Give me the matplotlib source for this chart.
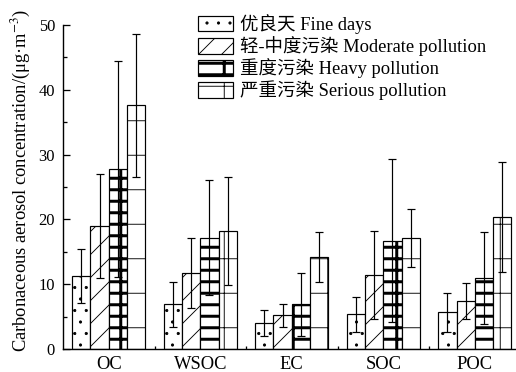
import matplotlib
matplotlib.use("Agg")
import matplotlib.pyplot as plt
import numpy as np

# ---- data ----
categories = ['OC', 'WSOC', 'EC', 'SOC', 'POC']
fine = [11.3, 6.9, 4.0, 5.4, 5.7]
fine_err = [4.2, 3.5, 2.0, 2.7, 3.0]
moderate = [19.0, 11.7, 5.2, 11.4, 7.4]
moderate_err = [8.0, 5.4, 1.8, 6.8, 2.8]
heavy = [27.8, 17.2, 6.9, 16.7, 11.0]
heavy_err = [16.7, 8.9, 4.9, 12.6, 7.1]
serious = [37.6, 18.2, 14.2, 17.1, 20.4]
serious_err = [11.0, 8.4, 3.8, 4.5, 8.5]
labels = ['优良天 Fine days', '轻-中度污染 Moderate pollution',
          '重度污染 Heavy pollution', '严重污染 Serious pollution']
yticks = [0, 10, 20, 30, 40, 50]

DPI = 207.0
def pt(px):
    return px * 72.0 / DPI

plt.rcParams['font.family'] = ['Liberation Serif', 'Noto Sans CJK SC']
plt.rcParams['mathtext.fontset'] = 'stix'
plt.rcParams['hatch.color'] = 'black'


def with_hatch_lw(artist, lw):
    orig = artist.draw

    def draw(renderer, *a, **k):
        with plt.rc_context({'hatch.linewidth': lw}):
            if hasattr(artist, 'set_hatch_linewidth'):
                try:
                    artist.set_hatch_linewidth(lw)
                except Exception:
                    pass
            return orig(renderer, *a, **k)
    artist.draw = draw


fig = plt.figure(figsize=(516.001 / DPI, 372.001 / DPI), dpi=DPI)
W, H = 516.0, 372.0
ax = fig.add_axes([63 / W, (H - 349) / H, (W - 63) / W, (349 - 25) / H])

x = np.arange(1, len(categories) + 1)
bw = 0.2
series = [fine, moderate, heavy, serious]
errs = [fine_err, moderate_err, heavy_err, serious_err]
hatches = ['...', '///', '+--', '+']
hlw = [pt(0.8), pt(0.9), pt(3.0), pt(0.9)]

handles = []
for i, (vals, err, h, lw) in enumerate(zip(series, errs, hatches, hlw)):
    pos = x + (i - 1.5) * bw
    bars = ax.bar(pos, vals, width=bw, color='white', edgecolor='black',
                  linewidth=pt(1.2), hatch=h, zorder=2)
    for b in bars:
        with_hatch_lw(b, lw)
    ax.errorbar(pos, vals, yerr=err, fmt='none', ecolor='black',
                elinewidth=pt(1.2), capsize=pt(3.5), capthick=pt(1.2), zorder=3)
    handles.append(bars)

ax.set_xlim(0.5, 5.45)
ax.set_ylim(0, 50)
ax.set_xticks(x)
ax.set_xticklabels(categories)
ax.set_xticks([1.5, 2.5, 3.5, 4.5], minor=True)
ax.set_yticks(yticks)
ax.set_yticks(np.arange(5, 50, 10), minor=True)

for s in ['top', 'right']:
    ax.spines[s].set_visible(False)
for s in ['left', 'bottom']:
    ax.spines[s].set_linewidth(pt(1.4))

ax.tick_params(axis='y', which='major', direction='in', length=pt(7), width=pt(1.3),
               labelsize=pt(16.5), pad=pt(8))
ax.tick_params(axis='y', which='minor', direction='in', length=pt(4), width=pt(1.3))
ax.tick_params(axis='x', which='major', length=0, labelsize=pt(18.5), pad=pt(7))
ax.tick_params(axis='x', which='minor', direction='in', length=pt(3), width=pt(1.3))

ax.set_ylabel('Carbonaceous aerosol concentration/(μg·m$^{-3}$)', fontsize=pt(18.5))
ax.yaxis.set_label_coords(-0.066, 0.52)

leg = ax.legend(handles, labels, loc='upper left',
                bbox_to_anchor=(198 / W, 1 - 14 / H), bbox_transform=fig.transFigure,
                frameon=False, fontsize=pt(18.5), borderpad=0, borderaxespad=0,
                handlelength=1.9, handleheight=0.92, handletextpad=0.35,
                labelspacing=0.12)
for p, lw in zip(leg.get_patches(), hlw):
    p.set_linewidth(pt(1.2))
    with_hatch_lw(p, lw)

fig.savefig('out.png', dpi=DPI)
